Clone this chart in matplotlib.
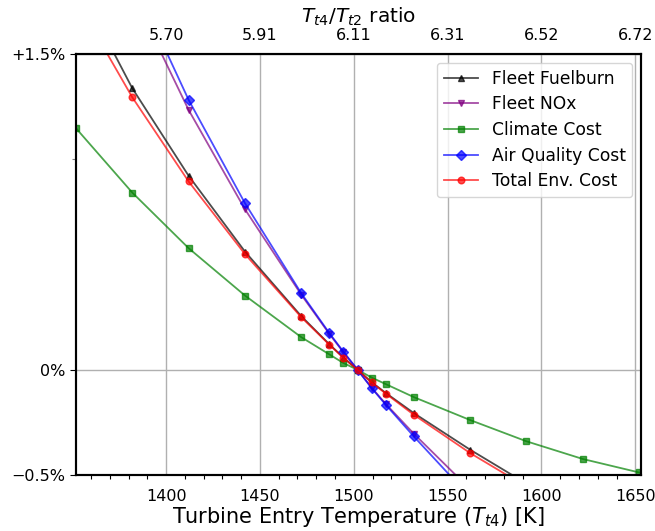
import numpy as np
import matplotlib
matplotlib.use("Agg")
import matplotlib.pyplot as plt
from matplotlib.ticker import FixedLocator

nan = np.nan
temps = [1352, 1382, 1412, 1442, 1472, 1487, 1494.5, 1502, 1509.5, 1517, 1532, 1562, 1592, 1622, 1652]

fleet_fuelburn = [1.85, 1.338, 0.922, 0.562, 0.255, 0.121, 0.058, 0.0, -0.059, -0.110, -0.206, -0.380, -0.541, nan, nan]
fleet_nox = [nan, 1.79, 1.235, 0.763, 0.357, 0.170, 0.083, 0.0, -0.085, -0.162, -0.304, -0.568, nan, nan, nan]
climate_cost = [1.148, 0.842, 0.578, 0.353, 0.155, 0.073, 0.032, 0.0, -0.037, -0.068, -0.130, -0.239, -0.340, -0.424, -0.488]
air_quality_cost = [nan, 1.86, 1.283, 0.792, 0.364, 0.174, 0.0855, 0.0, -0.087, -0.166, -0.317, -0.606, nan, nan, nan]
total_env_cost = [1.76, 1.295, 0.895, 0.550, 0.250, 0.119, 0.056, 0.0, -0.060, -0.113, -0.214, -0.396, -0.556, nan, nan]

series_labels = ["Fleet Fuelburn", "Fleet NOx", "Climate Cost", "Air Quality Cost", "Total Env. Cost"]

x_ticks = [1400, 1450, 1500, 1550, 1600, 1650]
top_tick_labels = ["5.70", "5.91", "6.11", "6.31", "6.52", "6.72"]
y_ticks = [-0.5, 0.0, 1.5]
y_tick_labels = ["\u22120.5%", "0%", "+1.5%"]

fig = plt.figure(figsize=(6.55, 5.31), dpi=100)
ax = fig.add_axes([0.116, 0.1055, 0.8626, 0.7925])

styles = [("black", "^"), ("purple", "v"), ("green", "s"), ("blue", "D"), ("red", "o")]
data = [fleet_fuelburn, fleet_nox, climate_cost, air_quality_cost, total_env_cost]
for vals, (c, m), lab in zip(data, styles, series_labels):
    ax.plot(temps, vals, color=c, marker=m, markersize=4.8, linewidth=1.3, alpha=0.7, label=lab)

ax.set_xlim(1352, 1653)
ax.set_ylim(-0.5, 1.5)
ax.set_xticks(x_ticks)
ax.xaxis.set_minor_locator(FixedLocator(np.arange(1360, 1651, 10)))
ax.set_yticks(y_ticks)
ax.set_yticklabels(y_tick_labels)
ax.yaxis.set_minor_locator(FixedLocator([1.0]))
ax.tick_params(axis="x", which="major", length=0, labelsize=11.5, pad=10)
ax.tick_params(axis="x", which="minor", length=3, width=0.8)
ax.tick_params(axis="y", which="major", length=4, labelsize=11.5)
ax.tick_params(axis="y", which="minor", length=3, width=0.8, color="gray")
ax.grid(True, which="major", color="#b0b0b0", linewidth=1)
for s in ax.spines.values():
    s.set_linewidth(1.5)
ax.set_xlabel("Turbine Entry Temperature ($T_{t4}$) [K]", fontsize=15, labelpad=1)

ax2 = ax.twiny()
ax2.set_xlim(ax.get_xlim())
ax2.set_xticks(x_ticks)
ax2.set_xticklabels(top_tick_labels)
ax2.tick_params(axis="x", length=0, labelsize=11.5, pad=8)
ax2.set_xlabel("$T_{t4}/T_{t2}$ ratio", fontsize=14.5, labelpad=4)
for s in ax2.spines.values():
    s.set_linewidth(1.5)

ax.legend(loc="upper right", fontsize=12.3, handlelength=2.0, labelspacing=0.45)

fig.savefig("out.png", dpi=100)
